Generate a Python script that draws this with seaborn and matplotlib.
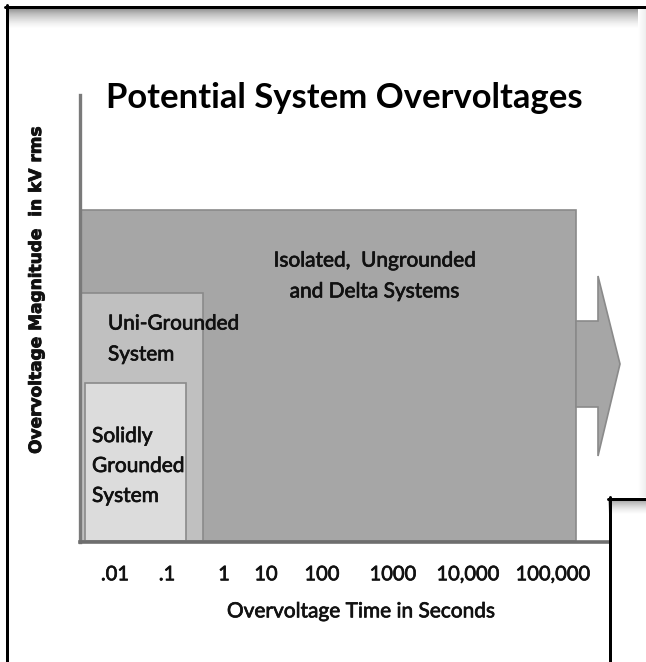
import numpy as np
import matplotlib
matplotlib.use("Agg")
import matplotlib.pyplot as plt
import matplotlib.patheffects as pe
from matplotlib.patches import Polygon
from matplotlib.lines import Line2D
import seaborn as sns

W, H = 646, 662

# overvoltage regions, in slide units measured from the axis corner
systems = ["Isolated,  Ungrounded\nand Delta Systems", "Uni-Grounded\nSystem", "Solidly\nGrounded\nSystem"]
time_start = [1, 1, 5]
time_end = [496, 123, 106]
magnitude = [332, 249, 159]
fills = ["#a6a6a6", "#c0c0c0", "#dcdcdc"]

time_labels = [".01", ".1", "1", "10", "100", "1000", "10,000", "100,000"]
time_pos = [35, 87, 144, 186, 242, 313, 388, 473]

# arrow continuing past 100,000 s
arrow_x = [496, 518, 540]
arrow_shaft = [135, 221]
arrow_head = [86, 266]

sns.set_theme(style="white")
plt.rcParams["font.family"] = ["Lato", "DejaVu Sans"]

INK = "#111111"
heavy = [pe.withStroke(linewidth=0.5, foreground=INK)]


def fx(px):
    return px / W


def fy(py):
    return 1 - py / H


def fit(fig, txt, target, vertical=False):
    fig.canvas.draw()
    bb = txt.get_window_extent(fig.canvas.get_renderer())
    size = bb.height if vertical else bb.width
    txt.set_fontsize(txt.get_fontsize() * target / size)


fig = plt.figure(figsize=(W / 100, H / 100), dpi=100)
fig.patch.set_facecolor("white")

x0, y0 = 80, 542
ax = fig.add_axes([fx(x0), fy(y0), (W - x0) / W, (y0 - 95) / H])
ax.set_xlim(0, W - x0)
ax.set_ylim(0, y0 - 95)
ax.set_facecolor("none")

for i in range(len(systems)):
    ax.bar(time_start[i], magnitude[i] - 1, width=time_end[i] - time_start[i], bottom=1,
           align="edge", color=fills[i], edgecolor="#8a8a8a", linewidth=1.2, zorder=2)

ax.add_patch(Polygon([(arrow_x[0], arrow_shaft[0]), (arrow_x[1], arrow_shaft[0]),
                      (arrow_x[1], arrow_head[0]), (arrow_x[2], sum(arrow_shaft) / 2),
                      (arrow_x[1], arrow_head[1]), (arrow_x[1], arrow_shaft[1]),
                      (arrow_x[0], arrow_shaft[1])],
                     closed=True, facecolor=fills[0], edgecolor="#8a8a8a", linewidth=1.2, zorder=2))

# region labels
t1 = ax.text(375 - x0, y0 - 276, systems[0], ha="center", va="center", fontsize=14,
             color=INK, linespacing=1.68, zorder=3, path_effects=heavy)
t2 = ax.text(108 - x0, y0 - 339, systems[1], ha="left", va="center", fontsize=14,
             color=INK, linespacing=1.68, zorder=3, path_effects=heavy)
t3 = ax.text(92 - x0, y0 - 466, systems[2], ha="left", va="center", fontsize=14,
             color=INK, linespacing=1.62, zorder=3, path_effects=heavy)

sns.despine(ax=ax, top=True, right=True)
ax.spines["left"].set_color("#7a7a7a")
ax.spines["left"].set_linewidth(2.4)
ax.spines["left"].set_zorder(4)
ax.spines["bottom"].set_color("#6e6e6e")
ax.spines["bottom"].set_linewidth(2.6)
ax.spines["bottom"].set_bounds(0, 528)
ax.spines["bottom"].set_zorder(4)

ax.set_yticks([])
ax.set_xticks(time_pos)
ax.set_xticklabels(time_labels, color=INK, fontsize=14)
ax.tick_params(axis="x", length=0, pad=17.5)
ax.set_xlabel("Overvoltage Time in Seconds", fontsize=14, color=INK, labelpad=13)
ax.xaxis.label.set_x((361 - x0) / (W - x0))
ax.xaxis.label.set_path_effects(heavy)
for lb in ax.get_xticklabels():
    lb.set_path_effects(heavy)

title = fig.text(fx(344), fy(98), "Potential System Overvoltages", ha="center", va="center",
                 fontsize=22, fontweight="bold", color="black")
ylab = fig.text(fx(36), fy(290), "Overvoltage Magnitude  in kV rms", rotation=90,
                ha="center", va="center", fontsize=11, fontweight="bold",
                family=["DejaVu Sans"], color=INK,
                path_effects=[pe.withStroke(linewidth=0.6, foreground=INK)])

fit(fig, title, 476)
fit(fig, ylab, 326, vertical=True)
fit(fig, t1, 203)
fit(fig, t2, 132)
fit(fig, t3, 93)
fit(fig, ax.xaxis.label, 269)
fig.canvas.draw()
lab = ax.get_xticklabels()[-1]
k = 75 / lab.get_window_extent(fig.canvas.get_renderer()).width
for lb in ax.get_xticklabels():
    lb.set_fontsize(lb.get_fontsize() * k)

# slide frame: top shadow, faint right edge, left/top black border
grad = np.linspace(0, 1, 64).reshape(-1, 1)
sh = fig.add_axes([fx(8), fy(28), 1 - fx(8), (28 - 8) / H])
sh.imshow(grad, cmap="Greys_r", vmin=-0.9, vmax=1.0, aspect="auto", extent=(0, 1, 0, 1))
sh.axis("off")

side = fig.add_axes([fx(638), fy(497), 1 - fx(638), (497 - 9) / H])
side.imshow(grad.T, cmap="Greys", vmin=0, vmax=7.0, aspect="auto", extent=(0, 1, 0, 1))
side.axis("off")

# overlapping slide at bottom right
ov = fig.add_axes([fx(608), 0, 1 - fx(608), fy(498)])
ov.set_facecolor("white")
ov.imshow(grad, cmap="Greys_r", vmin=-0.9, vmax=1.0, aspect="auto",
          extent=(0, 1, 1 - 16 / (H - 498), 1))
ov.set_xlim(0, 1)
ov.set_ylim(0, 1)
ov.axis("off")

lw = 3 * 72 / 100
fig.add_artist(Line2D([fx(6.5), fx(6.5)], [0, fy(5)], color="black", lw=lw))
fig.add_artist(Line2D([fx(5), 1], [fy(6.5), fy(6.5)], color="black", lw=lw))
fig.add_artist(Line2D([fx(609.5), fx(609.5)], [0, fy(497)], color="black", lw=lw))
fig.add_artist(Line2D([fx(608), 1], [fy(498.5), fy(498.5)], color="black", lw=lw))

fig.savefig("out.png", dpi=100, facecolor="white")
